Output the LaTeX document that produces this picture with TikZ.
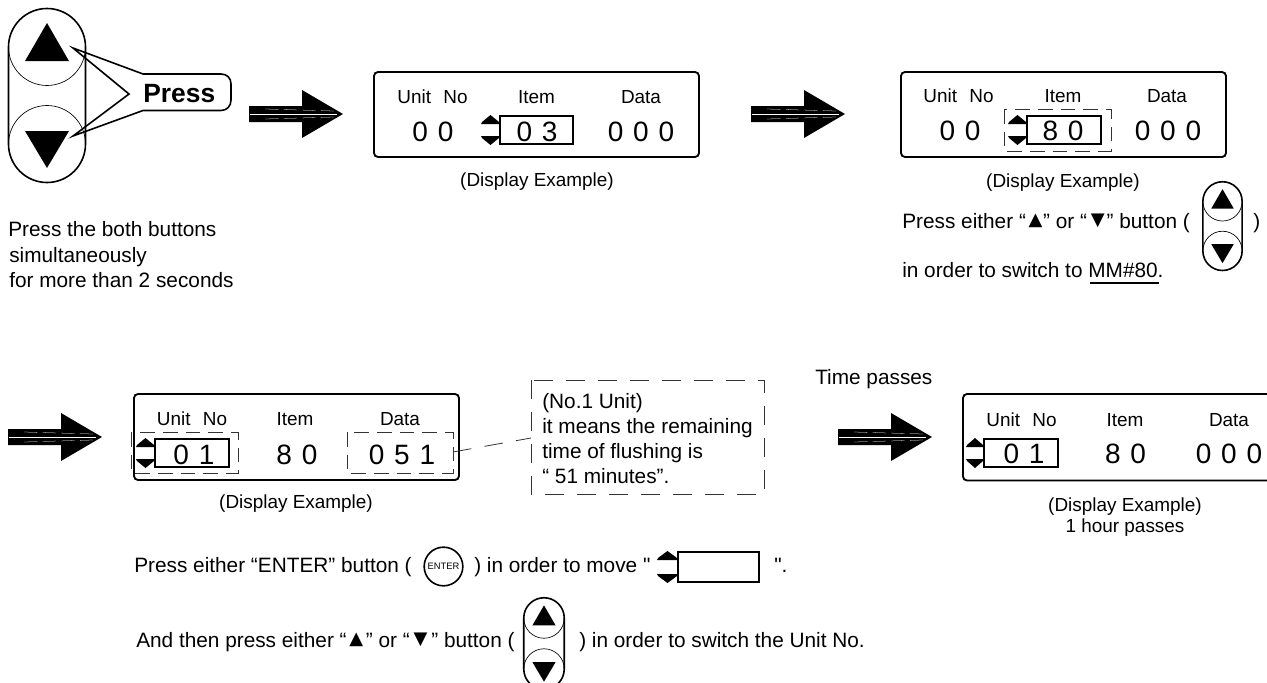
\documentclass[tikz,border=0pt]{standalone}
\usepackage{fontspec}
\setmainfont{Liberation Sans}
\newfontfamily\symf{DejaVu Sans}
\newfontfamily\plainf{Liberation Sans}
\newcommand{\lblf}{\fontsize{14.2}{17}\selectfont}
\newcommand{\txtf}{\fontsize{15.6}{19}\selectfont}
\newcommand{\digf}{\fontsize{21}{24}\selectfont}
\newcommand{\dsp}{\hspace{7.4pt}}
\newcommand{\ungap}{\hspace{0.65em}}
\newcommand{\UT}{\hspace{2pt}\raisebox{0.1em}{\symf\fontsize{13.5}{12}\selectfont ▲}\hspace{2pt}}
\newcommand{\DT}{\hspace{2.9pt}\raisebox{0.1em}{\symf\fontsize{13.5}{12}\selectfont ▼}\hspace{2.9pt}}
\tikzset{
 txt/.style={inner sep=0pt,anchor=base west,font=\txtf},
 ctxt/.style={inner sep=0pt,anchor=base,font=\lblf},
 dig/.style={inner sep=0pt,anchor=base,font=\digf},
 disp/.style={draw=black,line width=1.4pt,rounded corners=3pt},
 selbox/.style={draw=black,line width=1.2pt},
 dbox/.style={draw=black!80,line width=0.6pt,dash pattern=on 11pt off 6pt},
 cbox/.style={draw=black!80,line width=0.6pt,dash pattern=on 14pt off 10pt},
}
% button pair: centre x, top y, scale
\newcommand{\btns}[3]{%
 \begin{scope}[shift={(#1,#2)},xscale=#3,yscale=#3]
  \draw[line width=1.2pt] (-38.5,38) arc[start angle=180,end angle=360,radius=38.5] -- (38.5,135) arc[start angle=0,end angle=180,radius=38.5] -- cycle;
  \draw[line width=0.5pt] (-38.5,38) arc[start angle=180,end angle=0,radius=38.5];
  \draw[line width=0.5pt] (-38.5,135) arc[start angle=180,end angle=360,radius=38.5];
  \fill (0,14) -- (22,52) -- (-22,52) -- cycle;
  \fill (0,159) -- (22,122) -- (-22,122) -- cycle;
 \end{scope}}
% fat arrow: left x, centre y
\newcommand{\fatarrow}[2]{%
 \begin{scope}[shift={(#1,#2)}]
  \fill (0,-8) -- (53,-8) -- (53,-24) -- (94,0) -- (53,24) -- (53,8) -- (0,8) -- cycle;
  \draw[white,line width=0.25pt] (1,0) -- (88,0);
  \draw[white,line width=0.2pt,dash pattern=on 10pt off 4pt] (16,-5) -- (85,-3);
  \draw[white,line width=0.2pt,dash pattern=on 10pt off 4pt] (16,5) -- (85,3);
 \end{scope}}
% selector: left of triangles x, top y, box left x, box right x, height
\newcommand{\marker}[5]{%
 \fill (#1,#2+8) -- (#1+1,#2+6) -- ({(#1+#3)/2},#2-1) -- (#3-1,#2+6) -- (#3,#2+8) -- cycle;
 \fill (#1,#2+#5-8) -- (#1+1,#2+#5-6) -- ({(#1+#3)/2},#2+#5+1) -- (#3-1,#2+#5-6) -- (#3,#2+#5-8) -- cycle;
 \draw[selbox] (#3,#2) rectangle (#4,#2+#5);}
\begin{document}
\begin{tikzpicture}[x=0.75pt,y=-0.75pt]
\useasboundingbox (0,0) rectangle (1267,682);
% top-left buttons
\btns{47}{9}{1}
\draw[line width=1.2pt,line join=miter] (73,48) -- (143,74) -- (221,74) .. controls (227,74) and (231,78) .. (231,84) -- (231,100) .. controls (231,106) and (227,110.5) .. (221,110.5) -- (143,110.5) -- (73,136) -- (129,94) -- cycle;
\node[inner sep=0pt,anchor=base west,font=\bfseries\fontsize{19.8}{22}\selectfont] (press) at (143,102) {Press};
\fatarrow{249}{114}
\node[txt] (t1) at (8,236) {Press the both buttons};
\node[txt] (t2) at (9,262) {simultaneously};
\node[txt] (t3) at (9,287) {for more than 2 seconds};
% display 1
\draw[disp] (374,72) rectangle (699,157);
\node[ctxt] (d1a) at (432.5,103) {Unit\ungap No};
\node[ctxt] (d1b) at (536.5,103) {Item};
\node[ctxt] (d1c) at (641,103) {Data};
\node[dig] (d1d) at (433,141) {0\dsp 0};
\marker{481}{116}{500}{573}{28}
\node[dig] (d1e) at (537,141) {0\dsp 3};
\node[dig] (d1f) at (641,141) {0\dsp 0\dsp 0};
\node[ctxt] (d1g) at (537,186) {(Display Example)};
\fatarrow{751}{114}
% display 2
\draw[disp] (901,72) rectangle (1226,157);
\node[ctxt] (d2a) at (958.5,102.5) {Unit\ungap No};
\node[ctxt] (d2b) at (1063,102.5) {Item};
\node[ctxt] (d2c) at (1167,102.5) {Data};
\node[dig] (d2d) at (960,140) {0\dsp 0};
\marker{1008}{116}{1027}{1101}{28}
\node[dig] (d2e) at (1063,140) {8\dsp 0};
\node[dig] (d2f) at (1168,140) {0\dsp 0\dsp 0};
\draw[dbox] (1004,109) rectangle (1111,151);
\node[ctxt] (d2g) at (1063,187) {(Display Example)};
\node[txt] (t4) at (902,228) {Press either “\UT\hspace{-1.5pt}” or “\DT\hspace{-1.5pt}” button (};
\node[txt] (t4b) at (1253,228) {)};
\btns{1222.5}{182}{0.51}
\node[txt] (t5) at (902,277) {in order to switch to MM\#80.};
\draw[line width=0.8pt] (1090,283) -- (1159,283);
% row 2
\fatarrow{8}{437}
\draw[disp] (134,394) rectangle (459,480);
\node[ctxt] (d3a) at (192,425) {Unit\ungap No};
\node[ctxt] (d3b) at (295,425) {Item};
\node[ctxt] (d3c) at (400,425) {Data};
\marker{136}{439}{155}{229}{28}
\node[dig] (d3d) at (194,464) {0\dsp 1};
\node[dig] (d3e) at (297,464) {8\dsp 0};
\node[dig] (d3f) at (402,464) {0\dsp 5\dsp 1};
\draw[dbox] (131,432) rectangle (238,473);
\draw[dbox] (347,432) rectangle (453,473);
\node[ctxt] (d3g) at (296,508) {(Display Example)};
\coordinate (ca) at (453,452);
\coordinate (cb) at (531,438);
\draw[line width=0.6pt,draw=black!80,dash pattern=on 14pt off 10pt] (ca) -- (cb);
\draw[cbox] (531,380) rectangle (764,494);
\node[txt] (c1) at (542,408) {(No.1 Unit)};
\node[txt] (c2) at (542,433) {it means the remaining};
\node[txt] (c3) at (542,458) {time of flushing is};
\node[txt] (c4) at (542,483) {“ 51 minutes”.};
\node[txt] (t6) at (815,384) {Time passes};
\fatarrow{838}{437}
\draw[disp] (963,394) -- (1272,394) -- (1272,480.5) -- (963,480.5) -- cycle;
\node[ctxt] (d4a) at (1021.5,426) {Unit\ungap No};
\node[ctxt] (d4b) at (1125,426) {Item};
\node[ctxt] (d4c) at (1229,426) {Data};
\marker{966}{439}{984}{1058}{28}
\node[dig] (d4d) at (1024,463) {0\dsp 1};
\node[dig] (d4e) at (1125.5,463) {8\dsp 0};
\node[dig] (d4f) at (1229,463) {0\dsp 0\dsp 0};
\node[ctxt] (d4g) at (1125,511) {(Display Example)};
\node[ctxt] (d4h) at (1125,532) {1 hour passes};
% bottom text
\node[txt] (t7) at (134,572) {Press either “ENTER” button (};
\node[draw,circle,line width=1.2pt,minimum size=29pt,inner sep=0pt,font=\fontsize{7}{8}\selectfont] (ent) at (443.5,566.5) {ENTER};
\node[txt] (t8) at (474,572) {) in order to move {\plainf"}};
\marker{657}{552}{678}{759}{30}
\node[txt] (t9) at (774,572) {{\plainf"}.};
\node[txt] (t10) at (136,647) {And then press either “\UT” or “\DT” button (};
\btns{544}{598}{0.526}
\node[txt] (t11) at (579,647) {) in order to switch the Unit No.};
\end{tikzpicture}
\end{document}
